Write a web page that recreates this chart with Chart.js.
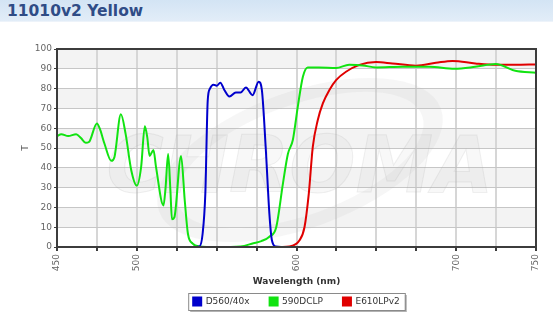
<!DOCTYPE html>
<html>
<head>
<meta charset="utf-8">
<script src="https://cdn.jsdelivr.net/npm/chart.js@4/dist/chart.umd.min.js"></script>
<style>
  body { margin: 0; background: #fff; }
  #wrap { position: relative; width: 553px; height: 332px; }
  #head {
    position: absolute; left: 0; top: 0; width: 553px; height: 22px;
    background: linear-gradient(#d3e4f4, #e2edf8);
    border-bottom: 1px solid #edf3fa;
    font: bold 15.5px "DejaVu Sans", Verdana, sans-serif;
    color: #2f4c86; line-height: 22px; padding-left: 7px; box-sizing: border-box;
  }
  canvas { position: absolute; left: 0; top: 0; }
</style>
</head>
<body>
<div id="wrap">
  <canvas id="chart" width="553" height="332"></canvas>
  <div id="head">11010v2 Yellow</div>
</div>
<script>
// D560/40x
const blueNm = [520, 535, 539.2, 541.2, 542.9, 544.4, 545.8, 548, 550, 552.3, 554.8, 558, 562, 565, 568.3, 572.5, 576.3, 578.3, 580.8, 583, 584.6, 587, 595, 620];
const blueT  = [0, 0, 0.3, 6.7, 27, 74, 80, 82, 81.4, 83, 79.3, 76, 78, 78, 80.6, 76.7, 83.5, 79.3, 49, 17, 3.4, 0.3, 0, 0];

// 590DCLP
const greenNm = [450, 452.7, 457, 462, 465, 468, 470, 475, 476.7, 479.8, 484, 486, 490, 493, 496.5, 500, 502.7, 505, 506.5, 508, 510.4, 512, 516.7, 518, 519.6, 521, 522, 523.5, 527.7, 530, 532, 535, 539, 550, 565, 573, 578, 583, 587.3, 591.5, 594.6, 597.7, 600.8, 604, 607, 614, 624.8, 633, 641.5, 649.8, 666.5, 683, 699, 712, 724.8, 737, 750];
const greenT  = [56, 57, 56, 57, 55, 52.6, 53, 62.4, 60, 52, 43.5, 45.5, 67, 57, 38.8, 31, 40.5, 61, 55.6, 46, 49, 40.5, 21, 30, 47, 29, 14, 15, 46, 23.6, 6.7, 1.7, 0.3, 0, 0.3, 1.9, 3, 5.2, 10, 32, 47, 54, 70.8, 86, 90.7, 90.7, 90.4, 92, 91.7, 90.7, 91, 91, 90, 91, 92.4, 89, 88];

// E610LPv2
const redNm = [590, 595.6, 601.9, 605, 607.7, 610.2, 613.3, 616.5, 620.6, 624.8, 631, 639.4, 649.8, 660, 674.8, 687.3, 697.7, 712, 724.8, 737, 750];
const redT  = [0, 0.3, 3.4, 10, 27, 50.6, 64, 72.5, 79.3, 84.3, 88.5, 92, 93.4, 92.7, 91.6, 93, 94, 92.7, 92, 92, 92.2];

const xLabels = [450, 500, 600, 700, 750];
const seriesNames = ['D560/40x', '590DCLP', 'E610LPv2'];

const pts = (xs, ys) => xs.map((x, i) => ({ x: x, y: ys[i] }));
const FONT = '"DejaVu Sans", Verdana, sans-serif';

const plotDeco = {
  id: 'plotDeco',
  beforeDraw(chart) {
    const { ctx, chartArea: a, scales: { y } } = chart;
    ctx.save();
    ctx.fillStyle = '#f3f3f3';
    for (let v = 100; v > 0; v -= 20) {
      const t = y.getPixelForValue(v), b = y.getPixelForValue(v - 10);
      ctx.fillRect(a.left, t, a.right - a.left, b - t);
    }
    ctx.restore();
  },
  beforeDatasetsDraw(chart) {
    const { ctx } = chart;
    // faint watermark
    ctx.save();
    ctx.fillStyle = 'rgba(180,180,180,0.12)';
    ctx.beginPath();
    ctx.ellipse(300, 160, 150, 68, -0.35, 0, Math.PI * 2);
    ctx.ellipse(300, 160, 130, 55, -0.35, 0, Math.PI * 2, true);
    ctx.fill();
    ctx.font = 'bold italic 78px ' + FONT;
    ctx.textAlign = 'center';
    ctx.textBaseline = 'middle';
    ctx.strokeStyle = 'rgba(170,170,170,0.18)';
    ctx.lineWidth = 1;
    ctx.fillStyle = 'rgba(190,190,190,0.10)';
    ctx.fillText('CHROMA', 300, 172);
    ctx.strokeText('CHROMA', 300, 172);
    ctx.restore();
  },
  afterDraw(chart) {
    const { ctx, chartArea: a, legend } = chart;
    ctx.save();
    ctx.strokeStyle = '#3c3c3c';
    ctx.lineWidth = 2;
    ctx.strokeRect(a.left, a.top, a.right - a.left, a.bottom - a.top);
    // legend frame
    const hb = legend.legendHitBoxes;
    if (hb && hb.length) {
      const last = hb[hb.length - 1];
      const l = hb[0].left - 5, r = last.left + last.width + 5;
      const t = hb[0].top - 4, b = hb[0].top + hb[0].height + 4;
      ctx.fillStyle = 'rgba(0,0,0,0.3)';
      ctx.fillRect(l + 2, t + 2, r - l, b - t);
      ctx.fillStyle = '#fff';
      ctx.fillRect(l, t, r - l, b - t);
      ctx.strokeStyle = '#8a8a8a';
      ctx.lineWidth = 1;
      ctx.strokeRect(l + 0.5, t + 0.5, r - l, b - t);
      ctx.restore();
      ctx.save();
      legend.draw();
    }
    ctx.restore();
  }
};

new Chart(document.getElementById('chart'), {
  type: 'line',
  data: {
    datasets: [
      { label: seriesNames[0], data: pts(blueNm, blueT), borderColor: '#0000cc', backgroundColor: '#0000cc' },
      { label: seriesNames[1], data: pts(greenNm, greenT), borderColor: '#11e311', backgroundColor: '#11e311' },
      { label: seriesNames[2], data: pts(redNm, redT), borderColor: '#e00000', backgroundColor: '#e00000' }
    ]
  },
  options: {
    responsive: false,
    animation: false,
    layout: { padding: { top: 49, right: 17, bottom: 16, left: 20 } },
    elements: {
      point: { radius: 0 },
      line: { borderWidth: 2, cubicInterpolationMode: 'monotone' }
    },
    scales: {
      x: {
        type: 'linear', min: 450, max: 750,
        afterFit: s => { s.height = 30; },
        ticks: {
          stepSize: 25, autoSkip: false, minRotation: 90, maxRotation: 90,
          color: '#666', font: { family: FONT, size: 9 }, padding: 3,
          callback: v => xLabels.includes(v) ? String(v) : ''
        },
        grid: { color: '#d6d6d6', lineWidth: 2, drawTicks: true, tickLength: 4, tickColor: '#3c3c3c' },
        border: { display: false },
        title: { display: true, text: 'Wavelength (nm)', color: '#333', font: { family: FONT, size: 9, weight: 'bold' }, padding: { top: 0, bottom: -10 } }
      },
      y: {
        min: 0, max: 100,
        afterFit: s => { s.width = 37; },
        ticks: { stepSize: 10, color: '#666', font: { family: FONT, size: 9 }, padding: 2 },
        grid: { color: '#c6c6c6', lineWidth: 1, tickLength: 3, tickColor: '#3c3c3c' },
        border: { display: false },
        title: { display: true, text: 'T', color: '#555', font: { family: FONT, size: 9 }, padding: { top: 0, bottom: 0 } }
      }
    },
    plugins: {
      legend: {
        position: 'bottom',
        fullSize: false,
        labels: { boxWidth: 8, boxHeight: 8, padding: 20, color: '#333', font: { family: FONT, size: 9 } }
      },
      tooltip: { enabled: false }
    }
  },
  plugins: [plotDeco]
});
</script>
</body>
</html>
